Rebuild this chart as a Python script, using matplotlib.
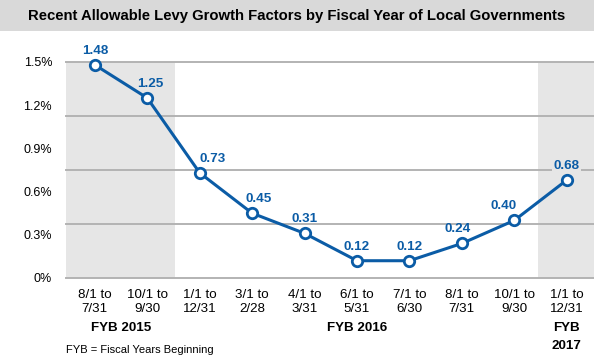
import matplotlib.pyplot as plt
import numpy as np

# data
periods = ['8/1 to\n7/31', '10/1 to\n9/30', '1/1 to\n12/31', '3/1 to\n2/28', '4/1 to\n3/31',
           '6/1 to\n5/31', '7/1 to\n6/30', '8/1 to\n7/31', '10/1 to\n9/30', '1/1 to\n12/31']
factors = [1.48, 1.25, 0.73, 0.45, 0.31, 0.12, 0.12, 0.24, 0.40, 0.68]
ytick_vals = [0, 0.3, 0.6, 0.9, 1.2, 1.5]
ytick_text = ['0%', '0.3%', '0.6%', '0.9%', '1.2%', '1.5%']
grid_vals = [0, 0.375, 0.75, 1.125, 1.5]
fy_groups = [('FYB 2015', 0.5), ('FYB 2016', 5.0), ('FYB\n2017', 9.0)]

blue = '#0b5ca6'
plt.rcParams['font.family'] = ['Liberation Sans', 'DejaVu Sans']

fig = plt.figure(figsize=(5.94, 3.6), dpi=100)
# title band
fig.patches.append(plt.Rectangle((0, 1 - 31/360.), 1, 31/360., transform=fig.transFigure,
                                 facecolor='#d9d9d9', edgecolor='none', zorder=0))
fig.text(0.5, 1 - 16/360., 'Recent Allowable Levy Growth Factors by Fiscal Year of Local Governments',
         ha='center', va='center', fontsize=10.7, fontweight='bold', color='black')

ax = fig.add_axes([66/594., 82/360., 528/594., 216/360.])
x = np.arange(len(factors))

ax.axvspan(-0.6, 1.53, color='#e6e6e6', lw=0, zorder=0)
ax.axvspan(8.45, 9.6, color='#e6e6e6', lw=0, zorder=0)
for g in grid_vals:
    ax.axhline(g, color='#b3b3b3', lw=1.4, zorder=1, clip_on=False)

ax.plot(x, factors, color=blue, lw=2.2, marker='o', ms=7.5, mfc='white', mec=blue, mew=2,
        zorder=3, clip_on=False)

# label offsets in pixels
dxs = [0, 3, 13, 7, 0, 0, 0, -4, -11, 0]
for xi, v, dx in zip(x, factors, dxs):
    t = ax.annotate('%.2f' % v, (xi, v), xytext=(dx, 14), textcoords='offset pixels',
                    ha='center', va='center', fontsize=9.7, fontweight='bold', color=blue, zorder=4)
    if xi == 9:
        t.set_bbox(dict(facecolor='#e6e6e6', edgecolor='none', pad=1))

ax.set_xlim(-0.55, 9.52)
ax.set_ylim(0, 1.5)
ax.set_yticks(ytick_vals)
ax.set_yticklabels(ytick_text, fontsize=9)
ax.set_xticks(x)
ax.set_xticklabels(periods, fontsize=9.6, linespacing=1.2)
ax.tick_params(length=0)
ax.tick_params(axis='y', pad=10)
ax.tick_params(axis='x', pad=8)
for s in ax.spines.values():
    s.set_visible(False)

for name, gx in fy_groups:
    ax.text(gx, -44/216., name, transform=ax.get_xaxis_transform(),
            ha='center', va='top', fontsize=9.6, fontweight='bold', linespacing=1.65)

fig.text(66/594., 10/360., 'FYB = Fiscal Years Beginning', fontsize=8, ha='left', va='center')

plt.savefig('out.png')
